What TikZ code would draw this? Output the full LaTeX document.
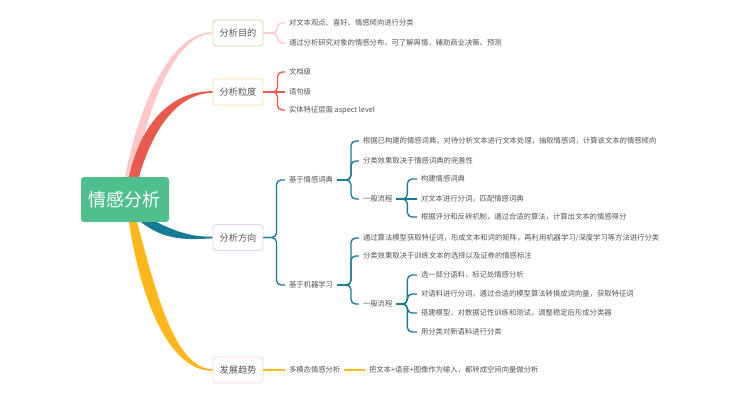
\documentclass[tikz,border=0pt]{standalone}
\usepackage{fontspec}
\newfontfamily\cjk{Noto Sans CJK SC}
\usepackage{xcolor}

\definecolor{rootg}{HTML}{4FC08D}
\definecolor{pinkc}{HTML}{FFC7C7}
\definecolor{redc}{HTML}{E85A4B}
\definecolor{tealc}{HTML}{167C93}
\definecolor{yellc}{HTML}{FFB71B}
\definecolor{bgreen}{HTML}{C8E2A5}
\definecolor{byellow}{HTML}{FCE1A0}
\definecolor{bpurple}{HTML}{EBD0F6}
\definecolor{bpink}{HTML}{FCD6D6}
\definecolor{txt}{HTML}{555555}

\pgfdeclarelayer{background}
\pgfsetlayers{background,main}

\tikzset{
  root/.style={fill=rootg, rounded corners=2pt, minimum width=66pt, minimum height=33.5pt,
    text=white, font=\cjk\fontsize{13.5}{15}\selectfont},
  box/.style={draw=#1, fill=white, line width=0.7pt, rounded corners=2.5pt,
    minimum width=37.5pt, minimum height=19.5pt, inner sep=1pt,
    font=\cjk\fontsize{6.9}{8}\selectfont, text=txt},
  leaf/.style={anchor=west, inner sep=1pt, outer sep=2pt,
    font=\cjk\fontsize{5.5}{6.5}\selectfont, text=txt},
  brace/.style={line width=1pt, to path={[rounded corners=3.5pt] -- ++(#1,0) |- (\tikztotarget)}},
  brace/.default=14,
}

\begin{document}
\begin{tikzpicture}[x=0.75pt, y=-0.75pt]
    \useasboundingbox (0,0) rectangle (740,400);

    % 中心主题
    \node[root] (root) at (125,199.5) {情感分析};

    % 一级分支
    \node[box=bgreen]  (mudi)  at (238,33)  {分析目的};
    \node[box=byellow] (lidu)  at (238,92)  {分析粒度};
    \node[box=bpurple] (fx)    at (238,237.5) {分析方向};
    \node[box=bpink]   (qushi) at (238,370) {发展趋势};

    % 分析目的
    \node[leaf] (m1) at (285,23) {对文本观点、喜好、情感倾向进行分类};
    \node[leaf] (m2) at (285,43) {通过分析研究对象的情感分布，可了解舆情，辅助商业决策、预测};

    % 分析粒度
    \node[leaf] (l1) at (285,72)  {文档级};
    \node[leaf] (l2) at (285,92)  {语句级};
    \node[leaf] (l3) at (285,110) {实体特征层面 aspect level};

    % 分析方向
    \node[leaf] (f1) at (285,180) {基于情感词典};
    \node[leaf] (f2) at (285,285) {基于机器学习};

    \node[leaf] (c1)  at (359,141) {根据已构建的情感词典，对待分析文本进行文本处理，抽取情感词，计算该文本的情感倾向};
    \node[leaf] (c2)  at (359,161) {分类效果取决于情感词典的完善性};
    \node[leaf] (c3)  at (359,199) {一般流程};
    \node[leaf] (c31) at (417,179) {构建情感词典};
    \node[leaf] (c32) at (417,199) {对文本进行分词，匹配情感词典};
    \node[leaf] (c33) at (417,217) {根据评分和反转机制，通过合适的算法，计算出文本的情感得分};

    \node[leaf] (j1)  at (359,238) {通过算法模型获取特征词，形成文本和词的矩阵，再利用机器学习/深度学习等方法进行分类};
    \node[leaf] (j2)  at (359,256) {分类效果取决于训练文本的选择以及证券的情感标注};
    \node[leaf] (j3)  at (359,304) {一般流程};
    \node[leaf] (j31) at (417,275) {选一部分语料，标记处情感分析};
    \node[leaf] (j32) at (417,294) {对语料进行分词，通过合适的模型算法转换成词向量，获取特征词};
    \node[leaf] (j33) at (417,313) {搭建模型，对数据记性训练和测试，调整稳定后形成分类器};
    \node[leaf] (j34) at (417,332) {用分类对新语料进行分类};

    % 发展趋势
    \node[leaf] (q1) at (285,370) {多模态情感分析};
    \node[leaf] (q2) at (365,370) {把文本+语音+图像作为输入，都转成空间向量做分析};

    % 连线
    \draw[brace, pinkc] (mudi.east) to (m1.west);
    \draw[brace, pinkc] (mudi.east) to (m2.west);

    \draw[brace, redc] (lidu.east) to (l1.west);
    \draw[line width=1pt, redc] (lidu.east) -- (l2.west);
    \draw[brace, redc] (lidu.east) to (l3.west);

    \draw[brace=13, tealc] (fx.east) to (f1.west);
    \draw[brace=13, tealc] (fx.east) to (f2.west);
    \draw[brace, tealc] (f1.east) to (c1.west);
    \draw[brace, tealc] (f1.east) to (c2.west);
    \draw[brace, tealc] (f1.east) to (c3.west);
    \draw[brace=11, tealc] (c3.east) to (c31.west);
    \draw[line width=1pt, tealc] (c3.east) -- (c32.west);
    \draw[brace=11, tealc] (c3.east) to (c33.west);
    \draw[brace, tealc] (f2.east) to (j1.west);
    \draw[brace, tealc] (f2.east) to (j2.west);
    \draw[brace, tealc] (f2.east) to (j3.west);
    \draw[brace=11, tealc] (j3.east) to (j31.west);
    \draw[brace=11, tealc] (j3.east) to (j32.west);
    \draw[brace=11, tealc] (j3.east) to (j33.west);
    \draw[brace=11, tealc] (j3.east) to (j34.west);

    \draw[line width=1pt, yellc] (qushi.east) -- (q1.west);
    \draw[line width=1pt, yellc] (q1.east) -- (q2.west);

    % 主干曲线 (背景层)
    \begin{pgfonlayer}{background}
    \fill[white] (0,0) rectangle (740,400);
    \fill[pinkc] (root.north) .. controls (138,108) and (170,31.8) .. ([yshift=0.5pt]mudi.west)
        -- ([yshift=-0.5pt]mudi.west) .. controls (174,34.3) and (147,110) .. ([xshift=7pt]root.north) -- cycle;
    \fill[redc] ([xshift=3pt]root.north) .. controls (141,122) and (172,90.8) .. ([yshift=0.6pt]lidu.west)
        -- ([yshift=-0.6pt]lidu.west) .. controls (178,93.4) and (153,128) .. ([xshift=10.5pt]root.north) -- cycle;
    \fill[tealc] ([xshift=20pt,yshift=2pt]root.south) .. controls (175,232) and (192,236.9) .. ([yshift=0.6pt]fx.west)
        -- ([yshift=-0.6pt]fx.west) .. controls (188,239.8) and (165,241) .. ([xshift=12pt]root.south) -- cycle;
    \fill[yellc] ([xshift=3pt]root.south) .. controls (140,296) and (168,371.3) .. ([yshift=-0.6pt]qushi.west)
        -- ([yshift=0.6pt]qushi.west) .. controls (174,368.7) and (155,288) .. ([xshift=9pt]root.south) -- cycle;
    \end{pgfonlayer}

\end{tikzpicture}
\end{document}
